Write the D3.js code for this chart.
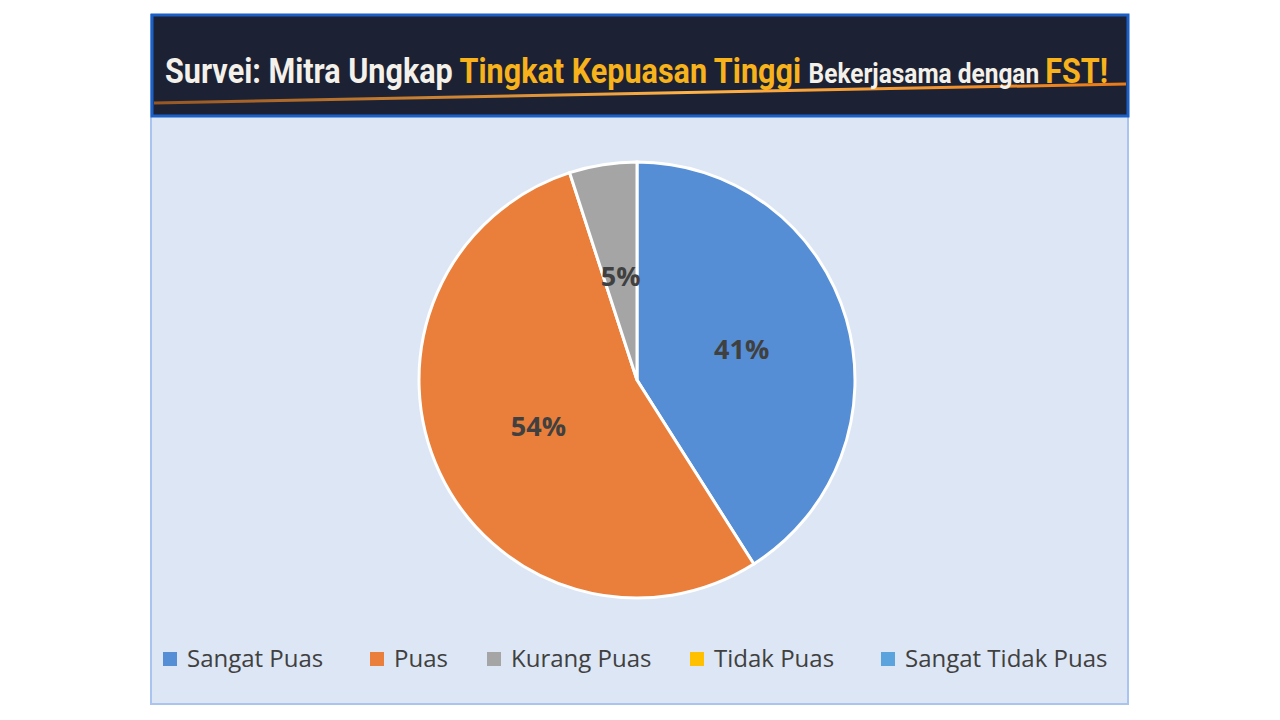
<!DOCTYPE html>
<html>
<head>
<meta charset="utf-8">
<script src="https://cdn.jsdelivr.net/npm/d3@7"></script>
<style>
  body { margin: 0; background: #fff; }
  svg { display: block; }
</style>
</head>
<body>
<svg id="chart" width="1280" height="720"></svg>
<script>
// survey result shares
let categories = ["Sangat Puas", "Puas", "Kurang Puas", "Tidak Puas", "Sangat Tidak Puas"];
let values = [41, 54, 5, 0, 0];
let colors = ["#558ed5", "#e97f3a", "#a5a5a5", "#ffc000", "#5ba3dc"];

let svg = d3.select('#chart');

// panel background
svg.append("rect")
    .attr("x", 151).attr("y", 15).attr("width", 977).attr("height", 689)
    .attr("fill", "#dce6f4")
    .attr("stroke", "#a9c4ef").attr("stroke-width", 2);

// banner
let grad = svg.append("defs").append("linearGradient")
    .attr("id", "glow").attr("x1", 0).attr("x2", 1).attr("y1", 0).attr("y2", 0);
grad.append("stop").attr("offset", "0%").attr("stop-color", "#e87a1a").attr("stop-opacity", 0.6);
grad.append("stop").attr("offset", "55%").attr("stop-color", "#ffb347");
grad.append("stop").attr("offset", "100%").attr("stop-color", "#e87a1a");

svg.append("rect")
    .attr("x", 152).attr("y", 15).attr("width", 976).attr("height", 101)
    .attr("fill", "#1c2233")
    .attr("stroke", "#1b5fc7").attr("stroke-width", 3);
svg.append("path")
    .attr("d", "M154,103 Q640,92 1126,84")
    .attr("fill", "none").attr("stroke", "url(#glow)").attr("stroke-width", 3);

let title = svg.append("text")
    .attr("x", 165).attr("y", 83)
    .attr("font-family", "Roboto, 'Open Sans', sans-serif")
    .attr("font-weight", "bold")
    .attr("font-size", "35px")
    .attr("textLength", 943)
    .attr("lengthAdjust", "spacingAndGlyphs");
title.append("tspan").attr("fill", "#f4f0ea").text("Survei: Mitra Ungkap ");
title.append("tspan").attr("fill", "#f7b21c").text("Tingkat Kepuasan Tinggi ");
title.append("tspan").attr("fill", "#f4f0ea").attr("font-size", "28px").text("Bekerjasama dengan ");
title.append("tspan").attr("fill", "#f7b21c").text("FST!");

// pie
let cx = 637, cy = 380, r = 218;
let pie = d3.pie().sort(null).value(d => d)(values);
let arc = d3.arc().innerRadius(0).outerRadius(r);
let labelArc = d3.arc().innerRadius(r * 0.5).outerRadius(r * 0.5);

let g = svg.append("g").attr("transform", `translate(${cx},${cy})`);
g.selectAll("path")
    .data(pie.filter(d => d.value > 0))
    .enter()
    .append("path")
    .attr("d", arc)
    .attr("fill", d => colors[d.index])
    .attr("stroke", "#ffffff")
    .attr("stroke-width", 3);

g.selectAll("text")
    .data(pie.filter(d => d.value > 0))
    .enter()
    .append("text")
    .attr("transform", d => {
        let c = labelArc.centroid(d);
        if (d.index === 2) c = d3.arc().innerRadius(r * 0.48).outerRadius(r * 0.48).centroid(d);
        return `translate(${c})`;
    })
    .attr("text-anchor", "middle")
    .attr("dy", "0.35em")
    .attr("font-family", "'Open Sans', sans-serif")
    .attr("font-weight", "bold")
    .attr("font-size", "27px")
    .attr("fill", "#404040")
    .text(d => d.value + "%");

// legend
let legendX = [163, 370, 487, 690, 881];
let legend = svg.append("g").selectAll("g")
    .data(categories)
    .enter()
    .append("g")
    .attr("transform", (d, i) => `translate(${legendX[i]},659)`);
legend.append("rect")
    .attr("x", 0).attr("y", -7).attr("width", 14).attr("height", 14)
    .attr("fill", (d, i) => colors[i]);
legend.append("text")
    .attr("x", 24).attr("dy", "0.35em")
    .attr("font-family", "'Open Sans', sans-serif")
    .attr("font-size", "24px")
    .attr("fill", "#404040")
    .text(d => d);
</script>
</body>
</html>
